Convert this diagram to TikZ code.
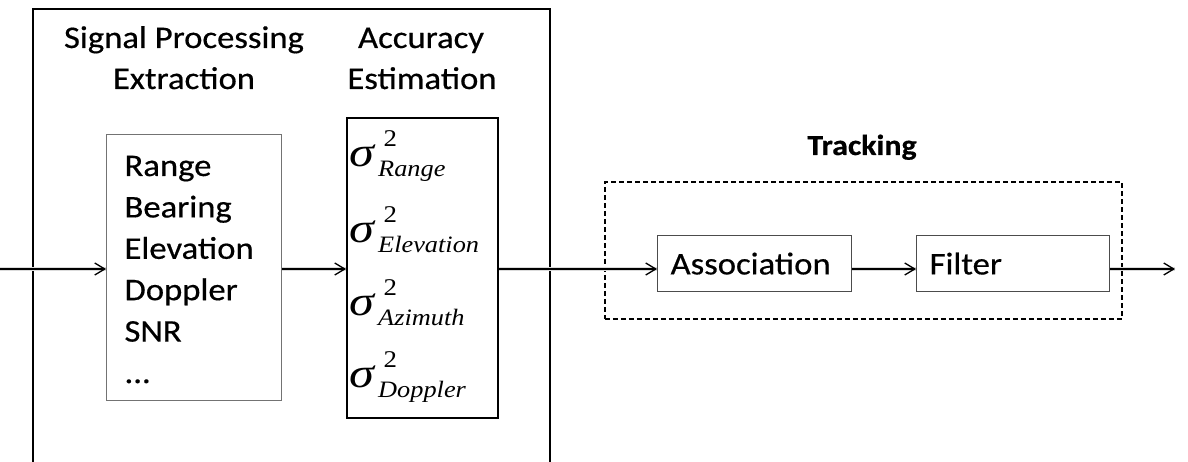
\documentclass[tikz,border=0pt]{standalone}
\usepackage{fontspec}
\setmainfont[FakeStretch=1.1,FakeBold=0.5]{Carlito}
\newfontfamily\symserif[FakeStretch=1.12]{Liberation Serif}
\newfontfamily\sigmaglyph[FakeStretch=1.2]{Liberation Serif Italic}
\usetikzlibrary{arrows.meta}

% variance symbol: sigma with a squared superscript and an italic subscript
\newcommand\sigvar[1]{%
  \makebox[29pt][l]{\sigmaglyph\fontsize{42}{42}\selectfont σ}%
  \rlap{\kern5.5pt\raisebox{20pt}{\symserif\fontsize{24}{24}\selectfont 2}}%
  \raisebox{-10pt}{\symserif\itshape\fontsize{23.5}{23.5}\selectfont #1}}

\begin{document}
\begin{tikzpicture}[x=1pt,y=-1pt,
  every node/.style={font=\fontsize{31.5}{31.5}\selectfont},
  frame/.style={draw=black,line width=2pt},
  listbox/.style={draw=black!55,line width=1.2pt,inner sep=0pt,anchor=north west},
  sigbox/.style={draw=black,line width=1.8pt,inner sep=0pt,anchor=north west},
  stagebox/.style={draw=black!70,line width=1.2pt,anchor=north west,
    minimum height=56pt,inner xsep=13pt,align=left},
  groupbox/.style={draw=black,line width=1.6pt,dash pattern=on 5pt off 3pt,
    inner sep=0pt,anchor=north west},
  flow/.style={line width=1.3pt,
    -{Straight Barb[length=10pt,width=12pt,line width=1.3pt]}},
  flowshade/.style={line width=4pt,black!14},
]
\useasboundingbox (0,0) rectangle (1188,462);

% outer frame of the front-end stages (open at the bottom)
\draw[frame] (33,463) -- (33,9) -- (550,9) -- (550,463);

% stage titles
\node[anchor=base] (t1a) at (184,48) {Signal Processing};
\node[anchor=base] (t1b) at (184,89) {Extraction};
\node[anchor=base] (t2a) at (421,48) {Accuracy};
\node[anchor=base] (t2b) at (422,89) {Estimation};
\node[anchor=base,font=\bfseries\fontsize{29}{29}\selectfont] (t3) at (862,155) {Tracking};

% boxes
\node[listbox,minimum width=175pt,minimum height=266pt] (sp) at (106,134) {};
\node[sigbox,minimum width=151pt,minimum height=300pt] (sig) at (346,117) {};
\node[groupbox,minimum width=517pt,minimum height=137pt] (grp) at (604,181) {};
\node[stagebox,minimum width=194pt,text width=168pt] (assoc) at (657,235) {Association};
\node[stagebox,minimum width=193pt,text width=167pt] (filt) at (916,235) {Filter};

% extracted measurements
\node[anchor=base west] (m1) at (121,176) {Range};
\node[anchor=base west] (m2) at (121,217.4) {Bearing};
\node[anchor=base west] (m3) at (121,258.8) {Elevation};
\node[anchor=base west] (m4) at (121,300.2) {Doppler};
\node[anchor=base west] (m5) at (121,341.6) {SNR};
\node[anchor=base west] (m6) at (121,383) {...};

% accuracy estimates
\node[anchor=base west,inner sep=0pt] (v1) at (349,167) {\sigvar{Range}};
\node[anchor=base west,inner sep=0pt] (v2) at (349,243) {\sigvar{Elevation}};
\node[anchor=base west,inner sep=0pt] (v3) at (349,315) {\sigvar{Azimuth}};
\node[anchor=base west,inner sep=0pt] (v4) at (349,387) {\sigvar{Doppler}};

% signal flow
\coordinate (src) at (0,269);
\coordinate (sink) at (1175,269);
\begin{scope}[yshift=-3pt]
  \draw[flowshade] (src) -- (src -| sp.west);
  \draw[flowshade] (sp.east |- src) -- (sig.west |- src);
  \draw[flowshade] (sig.east |- src) -- (assoc.west |- src);
  \draw[flowshade] (assoc.east |- src) -- (filt.west |- src);
  \draw[flowshade] (filt.east |- src) -- (sink);
\end{scope}
\draw[flow] (src) -- (src -| sp.west);
\draw[flow] (sp.east |- src) -- (sig.west |- src);
\draw[flow] (sig.east |- src) -- (assoc.west |- src);
\draw[flow] (assoc.east |- src) -- (filt.west |- src);
\draw[flow] (filt.east |- src) -- (sink);
\end{tikzpicture}
\end{document}
